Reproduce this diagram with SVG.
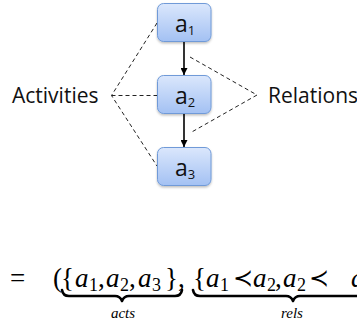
<svg xmlns="http://www.w3.org/2000/svg" width="357" height="329" viewBox="0 0 357 329">
<defs>
<linearGradient id="g" x1="0" y1="0" x2="0" y2="1">
<stop offset="0" stop-color="#dbe7fc"/>
<stop offset="1" stop-color="#a3c1f3"/>
</linearGradient>
<marker id="ah" viewBox="0 0 10 10" refX="10" refY="5" markerWidth="7" markerHeight="7" markerUnits="userSpaceOnUse" orient="auto">
<path d="M0,0 L10,5 L0,10 Z" fill="#000"/>
</marker>
<filter id="sh" x="-20%" y="-20%" width="140%" height="150%">
<feDropShadow dx="0" dy="1.5" stdDeviation="1" flood-color="#000" flood-opacity="0.25"/>
</filter>
</defs>
<style>
.box{fill:url(#g);stroke:#6f9ad8;stroke-width:1;filter:url(#sh)}
.nl{font-family:"Open Sans",sans-serif;font-size:23px;fill:#111}
.sub{font-size:13px}
.lab{font-family:"Open Sans",sans-serif;font-size:21px;fill:#111}
.dash{stroke:#222;stroke-width:1;stroke-dasharray:4 3;fill:none}
.arr{stroke:#000;stroke-width:1.6;fill:none;marker-end:url(#ah)}
.m{font-family:"Liberation Serif","DejaVu Serif",serif;font-size:27px;fill:#000}
.mi{font-style:italic}
.ms{font-size:18px}
.rel{font-family:"DejaVu Serif",serif;font-size:24px}
.brace{stroke:#000;stroke-width:2.6;fill:none;stroke-linejoin:round;stroke-linecap:round}
.bl{font-family:"Liberation Serif",serif;font-style:italic;font-size:15px;text-anchor:middle;fill:#000}
</style>
<g id="connectors">
<line class="arr" x1="184" y1="42" x2="184" y2="75"/>
<line class="arr" x1="184" y1="114" x2="184" y2="147"/>
<polyline class="dash" points="157,23 111.5,95.5 157,166"/>
<line class="dash" x1="111.5" y1="95.5" x2="157" y2="95.5"/>
<polyline class="dash" points="190,57 257,95 190,133"/>
</g>
<g id="a1">
<rect class="box" x="157.5" y="3.5" width="53.5" height="38" rx="6"/>
<text class="nl" x="175" y="31.5">a<tspan class="sub" dy="3.5">1</tspan></text>
</g>
<g id="a2">
<rect class="box" x="157.5" y="75.5" width="53.5" height="38" rx="6"/>
<text class="nl" x="175" y="103.5">a<tspan class="sub" dy="3.5">2</tspan></text>
</g>
<g id="a3">
<rect class="box" x="157.5" y="147.5" width="53.5" height="38" rx="6"/>
<text class="nl" x="175" y="175.5">a<tspan class="sub" dy="3.5">3</tspan></text>
</g>
<g id="activities">
<text class="lab" x="12" y="103">Activities</text>
</g>
<g id="relations">
<text class="lab" x="268" y="103">Relations</text>
</g>
<g id="formula">
<text class="m" x="10" y="287">=</text>
<text class="m" x="53" y="287">(</text>
<text class="m" x="61" y="287">{</text>
<text class="m mi" x="75" y="287">a</text>
<text class="m ms" x="89" y="291">1</text>
<text class="m" x="98" y="287">,</text>
<text class="m mi" x="106" y="287">a</text>
<text class="m ms" x="120" y="291">2</text>
<text class="m" x="129" y="287">,</text>
<text class="m mi" x="138" y="287">a</text>
<text class="m ms" x="152" y="291">3</text>
<text class="m" x="165" y="287">}</text>
<text class="m" x="178" y="287">,</text>
<text class="m" x="193" y="287">{</text>
<text class="m mi" x="206" y="287">a</text>
<text class="m ms" x="220" y="291">1</text>
<text class="m rel" x="233" y="286">≺</text>
<text class="m mi" x="253" y="287">a</text>
<text class="m ms" x="267" y="291">2</text>
<text class="m" x="275" y="287">,</text>
<text class="m mi" x="283" y="287">a</text>
<text class="m ms" x="297" y="291">2</text>
<text class="m rel" x="309" y="286">≺</text>
<text class="m mi" x="351" y="287">a</text>
<path class="brace" d="M62,290 Q63,296 69,296 L115,296 Q120,296 122,301 Q124,296 129,296 L175,296 Q181,296 182,290"/>
<path class="brace" d="M193,290 Q194,296 200,296 L286,296 Q291,296 293,301 Q295,296 300,296 L386,296"/>
<text class="bl" x="123" y="318">acts</text>
<text class="bl" x="292" y="318">rels</text>
</g>
</svg>
